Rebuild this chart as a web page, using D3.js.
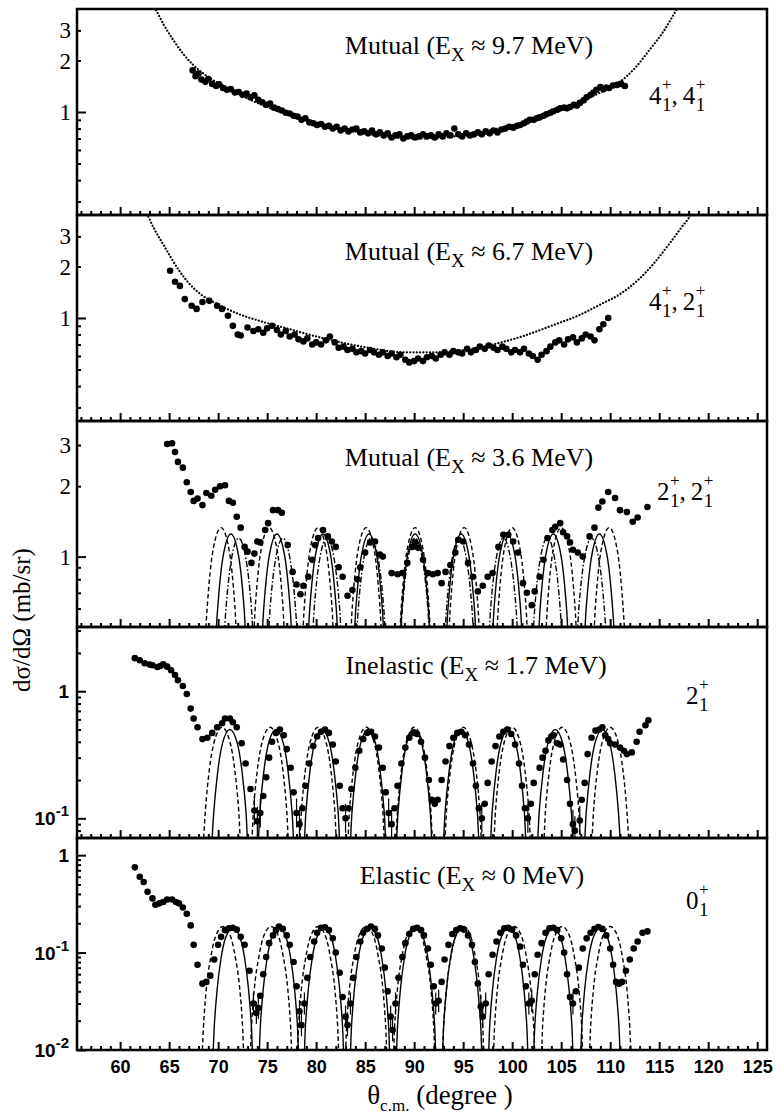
<!DOCTYPE html>
<html>
<head>
<meta charset="utf-8">
<script src="https://cdn.jsdelivr.net/npm/d3@7"></script>
<style>
  body { margin: 0; background: #fff; }
  svg { display: block; }
</style>
</head>
<body>
<svg id="chart" width="781" height="1114"></svg>
<script>
// ---- tick labels ----
const xMajor = [60, 65, 70, 75, 80, 85, 90, 95, 100, 105, 110, 115, 120, 125];
const yLabelsLin = [1, 2, 3];
const yLabelsDec = [[1, ""], [0.1, "-1"], [0.01, "-2"]];

// ---- Mutual 9.7 MeV (4+,4+) ----
const mut97Data = [[67.4,1.75],[67.7,1.62],[68.0,1.68],[68.3,1.55],[68.7,1.5],[69.0,1.56],[69.4,1.46],[69.8,1.42],[70.1,1.45],[70.5,1.38],[70.9,1.35],[71.3,1.36],[71.7,1.3],[72.1,1.31],[72.5,1.26],[72.9,1.28],[73.3,1.22],[73.7,1.25],[74.1,1.18],[74.5,1.14],[74.9,1.1],[75.3,1.12],[75.7,1.06],[76.1,1.04],[76.5,1.02],[76.9,0.99],[77.3,0.98],[77.7,0.95],[78.1,0.94],[78.5,0.9],[78.9,0.92],[79.3,0.87],[79.7,0.86],[80.1,0.84],[80.5,0.85],[80.9,0.82],[81.3,0.83],[81.7,0.8],[82.1,0.82],[82.5,0.78],[82.9,0.8],[83.3,0.77],[83.7,0.79],[84.1,0.8],[84.5,0.76],[84.9,0.77],[85.3,0.75],[85.7,0.78],[86.1,0.74],[86.5,0.76],[86.9,0.73],[87.3,0.75],[87.7,0.71],[88.1,0.73],[88.5,0.74],[88.9,0.7],[89.3,0.72],[89.7,0.73],[90.1,0.71],[90.5,0.72],[90.9,0.74],[91.3,0.72],[91.7,0.73],[92.1,0.71],[92.5,0.74],[92.9,0.72],[93.3,0.75],[93.7,0.73],[94.1,0.8],[94.5,0.74],[94.9,0.72],[95.3,0.75],[95.7,0.73],[96.1,0.74],[96.5,0.76],[96.9,0.74],[97.3,0.77],[97.7,0.75],[98.1,0.78],[98.5,0.76],[98.9,0.79],[99.3,0.8],[99.7,0.82],[100.1,0.81],[100.5,0.83],[100.8,0.84],[101.2,0.86],[101.5,0.88],[101.8,0.9],[102.2,0.9],[102.5,0.92],[102.8,0.93],[103.2,0.95],[103.5,0.97],[103.9,0.99],[104.2,1.01],[104.6,1.03],[104.9,1.05],[105.3,1.06],[105.6,1.05],[105.9,1.07],[106.3,1.1],[106.6,1.09],[106.9,1.13],[107.3,1.17],[107.6,1.22],[108.0,1.26],[108.3,1.3],[108.6,1.35],[109.0,1.4],[109.3,1.36],[109.6,1.39],[109.9,1.38],[110.3,1.43],[110.7,1.44],[111.1,1.46],[111.5,1.42]];
const mut97Curve = [[63.0,4.6],[63.6,4.0],[64.5,3.2],[65.4,2.65],[66.4,2.2],[67.4,1.9],[69,1.6],[71,1.38],[73,1.2],[75,1.07],[78,0.94],[81,0.84],[84,0.77],[87,0.72],[90,0.7],[93,0.71],[96,0.75],[99,0.81],[102,0.9],[105,1.03],[107,1.15],[109,1.3],[111,1.5],[112.5,1.8],[114,2.3],[115.5,3.0],[116.8,4.0],[117.4,4.6]];

// ---- Mutual 6.7 MeV (4+,2+) ----
const mut67Data = [[65.1,1.89],[65.6,1.63],[66.1,1.54],[66.6,1.29],[67.3,1.18],[67.8,1.13],[68.4,1.24],[69.1,1.26],[69.9,1.18],[70.4,1.13],[71.0,1.03],[71.5,0.9],[72.0,0.8],[72.3,0.79],[73.0,0.88],[73.6,0.84],[74.1,0.86],[74.6,0.82],[75.0,0.87],[75.5,0.9],[76.0,0.85],[76.4,0.8],[76.9,0.84],[77.3,0.78],[77.8,0.8],[78.2,0.75],[78.7,0.73],[79.1,0.76],[79.6,0.7],[80.0,0.72],[80.5,0.7],[81.0,0.74],[81.4,0.78],[81.9,0.72],[82.3,0.67],[82.8,0.68],[83.2,0.65],[83.7,0.66],[84.1,0.63],[84.6,0.64],[85.0,0.62],[85.5,0.65],[85.9,0.63],[86.4,0.61],[86.8,0.63],[87.3,0.6],[87.7,0.62],[88.2,0.59],[88.6,0.61],[89.1,0.57],[89.5,0.55],[90.0,0.56],[90.4,0.58],[90.9,0.56],[91.3,0.59],[91.8,0.6],[92.2,0.58],[92.7,0.61],[93.1,0.63],[93.6,0.61],[94.0,0.64],[94.5,0.63],[94.9,0.62],[95.4,0.66],[95.8,0.63],[96.3,0.65],[96.7,0.68],[97.2,0.66],[97.6,0.69],[98.1,0.67],[98.5,0.65],[99.0,0.68],[99.4,0.66],[99.9,0.63],[100.3,0.65],[100.8,0.63],[101.2,0.66],[101.7,0.62],[102.1,0.6],[102.6,0.57],[103.0,0.61],[103.5,0.64],[103.9,0.68],[104.4,0.72],[104.8,0.74],[105.3,0.7],[105.7,0.75],[106.2,0.77],[106.6,0.72],[107.1,0.76],[107.5,0.8],[108.0,0.78],[108.4,0.74],[108.9,0.86],[109.3,0.92],[109.8,1.0]];
const mut67Curve = [[62.3,4.6],[62.8,4.0],[63.5,3.3],[64.3,2.75],[65.1,2.3],[66,1.9],[67,1.6],[68.2,1.38],[70,1.2],[72,1.06],[74,0.97],[77,0.87],[80,0.78],[83,0.71],[86,0.66],[89,0.63],[92,0.63],[95,0.65],[98,0.7],[101,0.78],[104,0.9],[107,1.05],[109,1.2],[111,1.38],[113,1.7],[114.5,2.1],[116,2.7],[117.3,3.4],[118.2,4.0],[118.7,4.6]];

// ---- Mutual 3.6 MeV (2+,2+) ----
const mut36Data = [[64.8,3.03],[65.3,3.05],[65.6,2.8],[65.9,2.54],[66.4,2.4],[66.8,2.08],[67.2,1.89],[67.5,1.73],[67.9,1.77],[68.4,1.66],[68.8,1.87],[69.3,1.82],[69.7,1.93],[70.2,2.0],[70.7,2.02],[71.1,1.73],[71.5,1.7],[71.9,1.48],[72.3,1.33],[72.7,1.1],[73.0,1.05],[73.4,0.94],[73.7,1.03],[74.0,1.16],[74.3,1.15],[74.8,1.3],[75.1,1.39],[75.6,1.58],[76.1,1.58],[76.5,1.54],[77.1,1.12],[77.6,0.86],[78.0,0.76],[78.4,0.69],[78.7,0.75],[79.2,0.82],[79.6,0.97],[79.9,1.12],[80.2,1.2],[80.7,1.3],[81.2,1.22],[81.6,1.16],[82.0,1.1],[82.3,0.9],[82.7,0.82],[83.2,0.68],[83.7,0.72],[84.2,0.8],[84.5,0.9],[85.0,1.04],[85.5,1.15],[86.0,1.16],[86.5,1.02],[86.8,1.0],[87.7,0.85],[88.3,0.84],[88.8,0.85],[89.3,0.94],[89.8,1.1],[90.1,1.15],[90.4,1.09],[90.9,0.97],[91.4,0.85],[91.9,0.84],[92.4,0.85],[92.8,0.77],[93.2,0.86],[93.7,0.92],[94.2,1.04],[94.5,1.18],[95.0,1.16],[95.5,0.94],[96.0,0.82],[96.5,0.71],[97.0,0.75],[97.5,0.82],[98.0,0.85],[98.6,1.1],[99.1,1.24],[99.6,1.24],[100.1,1.16],[100.6,1.04],[101.1,0.77],[101.5,0.7],[102.0,0.62],[102.3,0.71],[102.8,0.82],[103.2,0.97],[103.6,1.2],[104.1,1.3],[104.4,1.34],[104.9,1.39],[105.2,1.27],[105.6,1.22],[105.9,1.15],[106.2,1.07],[106.7,1.04],[107.2,1.0],[107.9,1.22],[108.4,1.33],[108.8,1.62],[109.2,1.72],[109.8,1.89],[110.5,1.78],[111.0,1.58],[111.7,1.55],[112.3,1.41],[112.8,1.47],[113.8,1.63]];
const mut36Solid = [[69.5,.3],[69.95,.6],[70.5,1],[71.3,1.25],[72.1,1],[72.65,.6],[73.1,.3],[74.2,.3],[74.65,.6],[75.2,1],[76,1.25],[76.8,1],[77.35,.6],[77.8,.3],[78.9,.3],[79.35,.6],[79.9,1],[80.7,1.25],[81.5,1],[82.05,.6],[82.5,.3],[83.6,.3],[84.05,.6],[84.6,1],[85.4,1.25],[86.2,1],[86.75,.6],[87.2,.3],[88.3,.3],[88.75,.6],[89.3,1],[90.1,1.25],[90.9,1],[91.45,.6],[91.9,.3],[93,.3],[93.45,.6],[94,1],[94.8,1.25],[95.6,1],[96.15,.6],[96.6,.3],[97.7,.3],[98.15,.6],[98.7,1],[99.5,1.25],[100.3,1],[100.85,.6],[101.3,.3],[102.4,.3],[102.85,.6],[103.4,1],[104.2,1.25],[105,1],[105.55,.6],[106,.3],[107.1,.3],[107.55,.6],[108.1,1],[108.9,1.25],[109.7,1],[110.25,.6],[110.7,.3]];
const mut36Dashed = [[68.45,.3],[68.9,.62],[69.45,1.05],[70.3,1.33],[71.15,1.05],[71.7,.62],[72.15,.3],[73.35,.3],[73.8,.62],[74.35,1.05],[75.2,1.33],[76.05,1.05],[76.6,.62],[77.05,.3],[78.35,.3],[78.8,.62],[79.35,1.05],[80.2,1.33],[81.05,1.05],[81.6,.62],[82.05,.3],[83.25,.3],[83.7,.62],[84.25,1.05],[85.1,1.33],[85.95,1.05],[86.5,.62],[86.95,.3],[88.25,.3],[88.7,.62],[89.25,1.05],[90.1,1.33],[90.95,1.05],[91.5,.62],[91.95,.3],[93.25,.3],[93.7,.62],[94.25,1.05],[95.1,1.33],[95.95,1.05],[96.5,.62],[96.95,.3],[98.15,.3],[98.6,.62],[99.15,1.05],[100,1.33],[100.85,1.05],[101.4,.62],[101.85,.3],[103.15,.3],[103.6,.62],[104.15,1.05],[105,1.33],[105.85,1.05],[106.4,.62],[106.85,.3],[108.05,.3],[108.5,.62],[109.05,1.05],[109.9,1.33],[110.75,1.05],[111.3,.62],[111.75,.3]];
const mut36DashDot = [[70.35,.3],[70.8,.6],[71.35,.97],[72.1,1.2],[72.85,.97],[73.4,.6],[73.85,.3],[74.85,.3],[75.3,.6],[75.85,.97],[76.6,1.2],[77.35,.97],[77.9,.6],[78.35,.3],[79.35,.3],[79.8,.6],[80.35,.97],[81.1,1.2],[81.85,.97],[82.4,.6],[82.85,.3],[83.85,.3],[84.3,.6],[84.85,.97],[85.6,1.2],[86.35,.97],[86.9,.6],[87.35,.3],[88.35,.3],[88.8,.6],[89.35,.97],[90.1,1.2],[90.85,.97],[91.4,.6],[91.85,.3],[92.85,.3],[93.3,.6],[93.85,.97],[94.6,1.2],[95.35,.97],[95.9,.6],[96.35,.3],[97.35,.3],[97.8,.6],[98.35,.97],[99.1,1.2],[99.85,.97],[100.4,.6],[100.85,.3],[101.85,.3],[102.3,.6],[102.85,.97],[103.6,1.2],[104.35,.97],[104.9,.6],[105.35,.3],[106.35,.3],[106.8,.6],[107.35,.97],[108.1,1.2],[108.85,.97],[109.4,.6],[109.85,.3]];

// ---- Inelastic 1.7 MeV (2+) ----
const inelData = [[61.5,1.82],[62.0,1.75],[62.5,1.66],[63.0,1.62],[63.3,1.6],[63.8,1.55],[64.1,1.58],[64.4,1.63],[64.8,1.56],[65.2,1.46],[65.6,1.34],[65.9,1.22],[66.4,1.1],[66.8,0.95],[67.2,0.73],[67.5,0.61],[67.9,0.52],[68.4,0.42],[68.9,0.43],[69.4,0.47],[69.9,0.52],[70.4,0.56],[70.7,0.61],[71.2,0.61],[71.5,0.57],[71.9,0.52],[72.4,0.39],[72.8,0.27],[73.3,0.17],[73.7,0.115],[74.0,0.095],[74.3,0.11],[74.6,0.15],[74.9,0.21],[75.2,0.3],[75.5,0.4],[75.9,0.47],[76.3,0.5],[76.7,0.45],[77.0,0.35],[77.4,0.25],[77.7,0.16],[78.0,0.11],[78.3,0.09],[78.6,0.12],[78.9,0.18],[79.3,0.27],[79.7,0.37],[80.1,0.44],[80.5,0.48],[80.9,0.5],[81.3,0.47],[81.7,0.38],[82.0,0.28],[82.4,0.18],[82.7,0.12],[83.0,0.1],[83.3,0.12],[83.6,0.17],[84.0,0.25],[84.4,0.34],[84.8,0.42],[85.2,0.47],[85.6,0.48],[86.0,0.44],[86.4,0.36],[86.8,0.25],[87.1,0.16],[87.4,0.11],[87.7,0.09],[88.0,0.12],[88.3,0.18],[88.7,0.27],[89.1,0.36],[89.5,0.43],[89.9,0.47],[90.3,0.46],[90.7,0.4],[91.1,0.3],[91.5,0.2],[91.8,0.14],[92.1,0.13],[92.4,0.14],[92.8,0.2],[93.2,0.28],[93.6,0.37],[94.0,0.43],[94.4,0.47],[94.8,0.48],[95.2,0.45],[95.6,0.38],[96.0,0.27],[96.3,0.18],[96.6,0.12],[96.9,0.1],[97.2,0.13],[97.5,0.19],[97.9,0.28],[98.3,0.37],[98.7,0.44],[99.1,0.48],[99.5,0.5],[99.9,0.46],[100.3,0.38],[100.7,0.27],[101.0,0.18],[101.3,0.12],[101.6,0.1],[101.9,0.13],[102.2,0.19],[102.8,0.25],[103.1,0.3],[103.4,0.34],[103.7,0.41],[104.0,0.44],[104.2,0.45],[104.6,0.39],[104.9,0.38],[105.2,0.29],[105.6,0.2],[105.9,0.13],[106.2,0.09],[106.4,0.08],[106.9,0.096],[107.1,0.14],[107.4,0.19],[107.7,0.32],[108.1,0.43],[108.5,0.49],[108.9,0.5],[109.2,0.52],[109.5,0.45],[109.8,0.42],[110.0,0.39],[110.5,0.38],[111.0,0.36],[111.4,0.34],[111.7,0.32],[112.2,0.33],[112.7,0.4],[113.0,0.48],[113.6,0.54],[113.9,0.59]];
const inelSolid = [[69.25,.045],[69.55,.11],[69.95,.23],[70.45,.39],[71.2,.5],[71.95,.39],[72.45,.23],[72.85,.11],[73.15,.045],[73.95,.045],[74.25,.11],[74.65,.23],[75.15,.39],[75.9,.5],[76.65,.39],[77.15,.23],[77.55,.11],[77.85,.045],[78.65,.045],[78.95,.11],[79.35,.23],[79.85,.39],[80.6,.5],[81.35,.39],[81.85,.23],[82.25,.11],[82.55,.045],[83.35,.045],[83.65,.11],[84.05,.23],[84.55,.39],[85.3,.5],[86.05,.39],[86.55,.23],[86.95,.11],[87.25,.045],[88.05,.045],[88.35,.11],[88.75,.23],[89.25,.39],[90,.5],[90.75,.39],[91.25,.23],[91.65,.11],[91.95,.045],[92.85,.045],[93.15,.11],[93.55,.23],[94.05,.39],[94.8,.5],[95.55,.39],[96.05,.23],[96.45,.11],[96.75,.045],[97.65,.045],[97.95,.11],[98.35,.23],[98.85,.39],[99.6,.5],[100.35,.39],[100.85,.23],[101.25,.11],[101.55,.045],[102.45,.045],[102.75,.11],[103.15,.23],[103.65,.39],[104.4,.5],[105.15,.39],[105.65,.23],[106.05,.11],[106.35,.045],[107.25,.045],[107.55,.11],[107.95,.23],[108.45,.39],[109.2,.5],[109.95,.39],[110.45,.23],[110.85,.11],[111.15,.045]];
const inelDashed = [[68.4,.047],[68.7,.115],[69.1,.24],[69.6,.4],[70.4,.52],[71.2,.4],[71.7,.24],[72.1,.115],[72.4,.047],[73.3,.047],[73.6,.115],[74,.24],[74.5,.4],[75.3,.52],[76.1,.4],[76.6,.24],[77,.115],[77.3,.047],[78.2,.047],[78.5,.115],[78.9,.24],[79.4,.4],[80.2,.52],[81,.4],[81.5,.24],[81.9,.115],[82.2,.047],[83.1,.047],[83.4,.115],[83.8,.24],[84.3,.4],[85.1,.52],[85.9,.4],[86.4,.24],[86.8,.115],[87.1,.047],[88,.047],[88.3,.115],[88.7,.24],[89.2,.4],[90,.52],[90.8,.4],[91.3,.24],[91.7,.115],[92,.047],[93,.047],[93.3,.115],[93.7,.24],[94.2,.4],[95,.52],[95.8,.4],[96.3,.24],[96.7,.115],[97,.047],[98,.047],[98.3,.115],[98.7,.24],[99.2,.4],[100,.52],[100.8,.4],[101.3,.24],[101.7,.115],[102,.047],[103.1,.047],[103.4,.115],[103.8,.24],[104.3,.4],[105.1,.52],[105.9,.4],[106.4,.24],[106.8,.115],[107.1,.047],[108,.047],[108.3,.115],[108.7,.24],[109.2,.4],[110,.52],[110.8,.4],[111.3,.24],[111.7,.115],[112,.047]];

// ---- Elastic 0 MeV (0+) ----
const elData = [[61.5,0.75],[62.0,0.6],[62.4,0.53],[62.8,0.42],[63.3,0.36],[63.6,0.31],[64.0,0.32],[64.4,0.33],[64.8,0.35],[65.3,0.35],[65.7,0.33],[66.0,0.32],[66.4,0.29],[66.8,0.25],[67.2,0.19],[67.5,0.12],[67.9,0.075],[68.4,0.048],[68.8,0.05],[69.2,0.058],[69.6,0.085],[70.0,0.12],[70.3,0.145],[70.7,0.17],[71.1,0.178],[71.5,0.18],[71.9,0.172],[72.3,0.145],[72.7,0.12],[73.2,0.065],[73.6,0.03],[73.9,0.024],[74.1,0.027],[74.3,0.036],[74.6,0.06],[74.9,0.09],[75.2,0.125],[75.6,0.15],[75.9,0.17],[76.2,0.185],[76.6,0.175],[77.0,0.15],[77.3,0.12],[77.7,0.08],[78.0,0.045],[78.3,0.025],[78.5,0.018],[78.8,0.03],[79.1,0.055],[79.4,0.09],[79.8,0.13],[80.1,0.16],[80.5,0.18],[80.9,0.182],[81.3,0.17],[81.7,0.14],[82.0,0.1],[82.4,0.062],[82.7,0.035],[83.0,0.022],[83.2,0.018],[83.5,0.03],[83.8,0.055],[84.1,0.09],[84.5,0.13],[84.8,0.16],[85.2,0.175],[85.6,0.185],[86.0,0.175],[86.3,0.15],[86.7,0.11],[87.0,0.07],[87.3,0.04],[87.6,0.022],[87.8,0.016],[88.1,0.03],[88.4,0.055],[88.8,0.09],[89.1,0.125],[89.5,0.155],[89.9,0.175],[90.3,0.18],[90.7,0.17],[91.0,0.15],[91.4,0.11],[91.7,0.075],[92.0,0.045],[92.2,0.03],[92.5,0.032],[92.8,0.05],[93.1,0.085],[93.5,0.12],[93.9,0.155],[94.3,0.17],[94.7,0.178],[95.1,0.172],[95.5,0.15],[95.9,0.12],[96.2,0.08],[96.5,0.048],[96.8,0.028],[97.0,0.022],[97.3,0.03],[97.6,0.06],[98.0,0.095],[98.4,0.13],[98.8,0.16],[99.2,0.178],[99.6,0.18],[100.0,0.172],[100.4,0.15],[100.8,0.115],[101.1,0.075],[101.4,0.045],[101.7,0.03],[102.0,0.032],[102.3,0.06],[102.6,0.095],[103.0,0.125],[103.4,0.16],[103.8,0.178],[104.2,0.18],[104.6,0.17],[105.0,0.14],[105.3,0.1],[105.6,0.06],[105.9,0.035],[106.2,0.03],[106.5,0.04],[106.8,0.07],[107.2,0.11],[107.6,0.14],[108.0,0.16],[108.4,0.175],[108.8,0.183],[109.2,0.175],[109.6,0.15],[110.0,0.11],[110.3,0.075],[110.6,0.05],[110.9,0.048],[111.2,0.05],[111.6,0.065],[112.0,0.085],[112.4,0.11],[112.8,0.13],[113.3,0.16],[113.8,0.165]];
const elSolid = [[69.4,.006],[69.6,.017],[69.9,.042],[70.3,.088],[70.8,.145],[71.5,.18],[72.2,.145],[72.7,.088],[73.1,.042],[73.4,.017],[73.6,.006],[74.1,.006],[74.3,.017],[74.6,.042],[75,.088],[75.5,.145],[76.2,.18],[76.9,.145],[77.4,.088],[77.8,.042],[78.1,.017],[78.3,.006],[78.7,.006],[78.9,.017],[79.2,.042],[79.6,.088],[80.1,.145],[80.8,.18],[81.5,.145],[82,.088],[82.4,.042],[82.7,.017],[82.9,.006],[83.4,.006],[83.6,.017],[83.9,.042],[84.3,.088],[84.8,.145],[85.5,.18],[86.2,.145],[86.7,.088],[87.1,.042],[87.4,.017],[87.6,.006],[88.1,.006],[88.3,.017],[88.6,.042],[89,.088],[89.5,.145],[90.2,.18],[90.9,.145],[91.4,.088],[91.8,.042],[92.1,.017],[92.3,.006],[92.8,.006],[93,.017],[93.3,.042],[93.7,.088],[94.2,.145],[94.9,.18],[95.6,.145],[96.1,.088],[96.5,.042],[96.8,.017],[97,.006],[97.5,.006],[97.7,.017],[98,.042],[98.4,.088],[98.9,.145],[99.6,.18],[100.3,.145],[100.8,.088],[101.2,.042],[101.5,.017],[101.7,.006],[102.1,.006],[102.3,.017],[102.6,.042],[103,.088],[103.5,.145],[104.2,.18],[104.9,.145],[105.4,.088],[105.8,.042],[106.1,.017],[106.3,.006],[106.9,.006],[107.1,.017],[107.4,.042],[107.8,.088],[108.3,.145],[109,.18],[109.7,.145],[110.2,.088],[110.6,.042],[110.9,.017],[111.1,.006]];
const elDashed = [[68.3,.006],[68.5,.017],[68.8,.043],[69.25,.09],[69.75,.148],[70.5,.185],[71.25,.148],[71.75,.09],[72.2,.043],[72.5,.017],[72.7,.006],[73.2,.006],[73.4,.017],[73.7,.043],[74.15,.09],[74.65,.148],[75.4,.185],[76.15,.148],[76.65,.09],[77.1,.043],[77.4,.017],[77.6,.006],[78,.006],[78.2,.017],[78.5,.043],[78.95,.09],[79.45,.148],[80.2,.185],[80.95,.148],[81.45,.09],[81.9,.043],[82.2,.017],[82.4,.006],[82.9,.006],[83.1,.017],[83.4,.043],[83.85,.09],[84.35,.148],[85.1,.185],[85.85,.148],[86.35,.09],[86.8,.043],[87.1,.017],[87.3,.006],[87.8,.006],[88,.017],[88.3,.043],[88.75,.09],[89.25,.148],[90,.185],[90.75,.148],[91.25,.09],[91.7,.043],[92,.017],[92.2,.006],[92.8,.006],[93,.017],[93.3,.043],[93.75,.09],[94.25,.148],[95,.185],[95.75,.148],[96.25,.09],[96.7,.043],[97,.017],[97.2,.006],[98,.006],[98.2,.017],[98.5,.043],[98.95,.09],[99.45,.148],[100.2,.185],[100.95,.148],[101.45,.09],[101.9,.043],[102.2,.017],[102.4,.006],[102.9,.006],[103.1,.017],[103.4,.043],[103.85,.09],[104.35,.148],[105.1,.185],[105.85,.148],[106.35,.09],[106.8,.043],[107.1,.017],[107.3,.006],[107.8,.006],[108,.017],[108.3,.043],[108.75,.09],[109.25,.148],[110,.185],[110.75,.148],[111.25,.09],[111.7,.043],[112,.017],[112.2,.006]];

// ---- layout ----
const svg = d3.select("#chart");
const left = 77, right = 767;
const x = d3.scaleLinear().domain([55.6, 126]).range([left, right]);
const serif = "'Liberation Serif', 'Times New Roman', serif";
const sans = "'Liberation Sans', Arial, sans-serif";

const DOT = "0.1,3.2", DASH = "4.5,2.8", DASHDOT = "6,2.2,1.6,2.2";

const panels = [
  { top: 9, bottom: 215, domain: [0.25, 4], data: mut97Data,
    curves: [{ pts: mut97Curve, dash: DOT, w: 2.2, cap: "round" }],
    major: [1], minor: [0.3, 0.4, 0.5, 0.6, 0.7, 0.8, 0.9, 2, 3], labels: "lin",
    title: ["Mutual (E", " \u2248 9.7 MeV)"], tx: 469, ty: 54,
    state: [["4", "+", "1"], ["4", "+", "1"]], sx: 649, sy: 104 },
  { top: 215, bottom: 421, domain: [0.25, 4], data: mut67Data,
    curves: [{ pts: mut67Curve, dash: DOT, w: 2.2, cap: "round" }],
    major: [1], minor: [0.3, 0.4, 0.5, 0.6, 0.7, 0.8, 0.9, 2, 3], labels: "lin",
    title: ["Mutual (E", " \u2248 6.7 MeV)"], tx: 469, ty: 260,
    state: [["4", "+", "1"], ["2", "+", "1"]], sx: 649, sy: 310 },
  { top: 421, bottom: 627, domain: [0.5, 3.8], data: mut36Data,
    curves: [{ pts: mut36Solid, dash: null, w: 1.4 },
             { pts: mut36Dashed, dash: DASH, w: 1.4 },
             { pts: mut36DashDot, dash: DASHDOT, w: 1.4 }],
    major: [1], minor: [0.6, 0.7, 0.8, 0.9, 2, 3], labels: "lin",
    title: ["Mutual (E", " \u2248 3.6 MeV)"], tx: 469, ty: 466,
    state: [["2", "+", "1"], ["2", "+", "1"]], sx: 657, sy: 500 },
  { top: 627, bottom: 838, domain: [0.07, 3.2], data: inelData,
    curves: [{ pts: inelSolid, dash: null, w: 1.4 },
             { pts: inelDashed, dash: DASH, w: 1.4 }],
    major: [0.1, 1], minor: [0.08, 0.09, 0.2, 0.3, 0.4, 0.5, 0.6, 0.7, 0.8, 0.9, 2, 3], labels: "dec",
    errLimit: 0.12,
    title: ["Inelastic (E", " \u2248 1.7 MeV)"], tx: 476, ty: 674,
    state: [["2", "+", "1"]], sx: 686, sy: 704 },
  { top: 838, bottom: 1050, domain: [0.01, 1.5], data: elData,
    curves: [{ pts: elSolid, dash: null, w: 1.4 },
             { pts: elDashed, dash: DASH, w: 1.4 }],
    major: [0.01, 0.1, 1], minor: [0.02, 0.03, 0.04, 0.05, 0.06, 0.07, 0.08, 0.09, 0.2, 0.3, 0.4, 0.5, 0.6, 0.7, 0.8, 0.9], labels: "dec",
    errLimit: 0.035,
    title: ["Elastic (E", " \u2248 0 MeV)"], tx: 472, ty: 884,
    state: [["0", "+", "1"]], sx: 686, sy: 909 }
];

const xMinor = d3.range(56, 126).filter(d => d % 5 !== 0);

panels.forEach((p, i) => {
  const isLast = i === panels.length - 1;
  const y = d3.scaleLog().domain(p.domain).range([p.bottom, p.top]);
  const g = svg.append("g");

  svg.append("clipPath").attr("id", "clip" + i)
    .append("rect")
    .attr("x", left).attr("y", p.top)
    .attr("width", right - left).attr("height", p.bottom - p.top);

  const plot = g.append("g").attr("clip-path", "url(#clip" + i + ")");

  const line = d3.line()
    .x(d => x(d[0]))
    .y(d => y(d[1]))
    .curve(d3.curveMonotoneX);

  p.curves.forEach(c => {
    plot.append("path")
      .attr("d", line(c.pts))
      .attr("fill", "none")
      .attr("stroke", "#000")
      .attr("stroke-width", c.w)
      .attr("stroke-linecap", c.cap || "butt")
      .attr("stroke-dasharray", c.dash);
  });

  // error bars on the low points
  if (p.errLimit) {
    plot.selectAll(".err")
      .data(p.data.filter(d => d[1] < p.errLimit))
      .enter().append("line")
      .attr("x1", d => x(d[0])).attr("x2", d => x(d[0]))
      .attr("y1", d => y(d[1] * 1.3)).attr("y2", d => y(d[1] / 1.3))
      .attr("stroke", "#000").attr("stroke-width", 1.2);
  }

  plot.selectAll(".dot")
    .data(p.data)
    .enter().append("circle")
    .attr("cx", d => x(d[0]))
    .attr("cy", d => y(d[1]))
    .attr("r", 3.3)
    .attr("fill", "#000");

  // x ticks (inside, along the bottom edge)
  const xa1 = g.append("g").attr("transform", "translate(0," + p.bottom + ")")
    .call(d3.axisBottom(x).tickValues(xMinor).tickSize(-4).tickFormat(""));
  const xa2 = g.append("g").attr("transform", "translate(0," + p.bottom + ")")
    .call(d3.axisBottom(x).tickValues(xMajor).tickSize(-8).tickPadding(10)
      .tickFormat(isLast ? d3.format("d") : ""));
  [xa1, xa2].forEach(a => {
    a.select(".domain").remove();
    a.selectAll("line").attr("stroke-width", 2);
  });
  xa2.selectAll("text")
    .attr("font-family", sans).attr("font-weight", "bold")
    .attr("font-size", 18).attr("fill", "#000");

  // y ticks (inside, along the left edge)
  const ya1 = g.append("g").attr("transform", "translate(" + left + ",0)")
    .call(d3.axisLeft(y).tickValues(p.minor).tickSize(-4).tickFormat(""));
  const ya2 = g.append("g").attr("transform", "translate(" + left + ",0)")
    .call(d3.axisLeft(y).tickValues(p.major).tickSize(-9).tickFormat(""));
  [ya1, ya2].forEach(a => {
    a.select(".domain").remove();
    a.selectAll("line").attr("stroke-width", 2);
  });

  // y tick labels
  if (p.labels === "lin") {
    g.selectAll(".ylab")
      .data(yLabelsLin)
      .enter().append("text")
      .attr("x", left - 6)
      .attr("y", d => y(d) + 8)
      .attr("text-anchor", "end")
      .attr("font-family", serif)
      .attr("font-size", 23)
      .text(d => d);
  } else {
    const labs = yLabelsDec.filter(d => d[0] >= p.domain[0] * 0.99 && d[0] <= p.domain[1]);
    const t = g.selectAll(".ylab")
      .data(labs)
      .enter().append("text")
      .attr("x", left - 8)
      .attr("y", d => y(d[0]) + 7)
      .attr("text-anchor", "end")
      .attr("font-family", sans)
      .attr("font-weight", "bold")
      .attr("font-size", 19);
    t.each(function (d) {
      const el = d3.select(this);
      if (d[1] === "") { el.text("1"); return; }
      el.append("tspan").text("10");
      el.append("tspan").attr("dy", -9).attr("font-size", 15).text(d[1]);
    });
  }

  // frame
  g.append("rect")
    .attr("x", left).attr("y", p.top)
    .attr("width", right - left).attr("height", p.bottom - p.top)
    .attr("fill", "none").attr("stroke", "#000").attr("stroke-width", 2.5);

  // title
  const tt = g.append("text")
    .attr("x", p.tx).attr("y", p.ty)
    .attr("text-anchor", "middle")
    .attr("font-family", serif)
    .attr("font-size", 26);
  tt.append("tspan").text(p.title[0]);
  tt.append("tspan").attr("dy", 7).attr("font-size", 19).text("X");
  tt.append("tspan").attr("dy", -7).text(p.title[1]);

  // state label, e.g. 4+1, 4+1
  let cx = p.sx;
  p.state.forEach((s, k) => {
    if (k > 0) {
      const comma = g.append("text").attr("x", cx).attr("y", p.sy)
        .attr("font-family", serif).attr("font-size", 25).text(",");
      cx += comma.node().getComputedTextLength() + 5;
    }
    const base = g.append("text").attr("x", cx).attr("y", p.sy)
      .attr("font-family", serif).attr("font-size", 25).text(s[0]);
    cx += base.node().getComputedTextLength() + 0.5;
    const sup = g.append("text").attr("x", cx).attr("y", p.sy - 14)
      .attr("font-family", serif).attr("font-size", 17).text(s[1]);
    const sub = g.append("text").attr("x", cx).attr("y", p.sy + 7)
      .attr("font-family", serif).attr("font-size", 19).text(s[2]);
    cx += Math.max(sup.node().getComputedTextLength(), sub.node().getComputedTextLength());
  });
});

// axis titles
svg.append("text")
  .attr("transform", "translate(30,620) rotate(-90)")
  .attr("text-anchor", "middle")
  .attr("font-family", serif)
  .attr("font-size", 25)
  .text("d\u03c3/d\u03a9 (mb/sr)");

const xt = svg.append("text")
  .attr("x", 440).attr("y", 1104)
  .attr("text-anchor", "middle")
  .attr("font-family", serif)
  .attr("font-size", 27);
xt.append("tspan").text("\u03b8");
xt.append("tspan").attr("dy", 7).attr("font-size", 17).text("c.m.");
xt.append("tspan").attr("dy", -7).text(" (degree )");
</script>
</body>
</html>
